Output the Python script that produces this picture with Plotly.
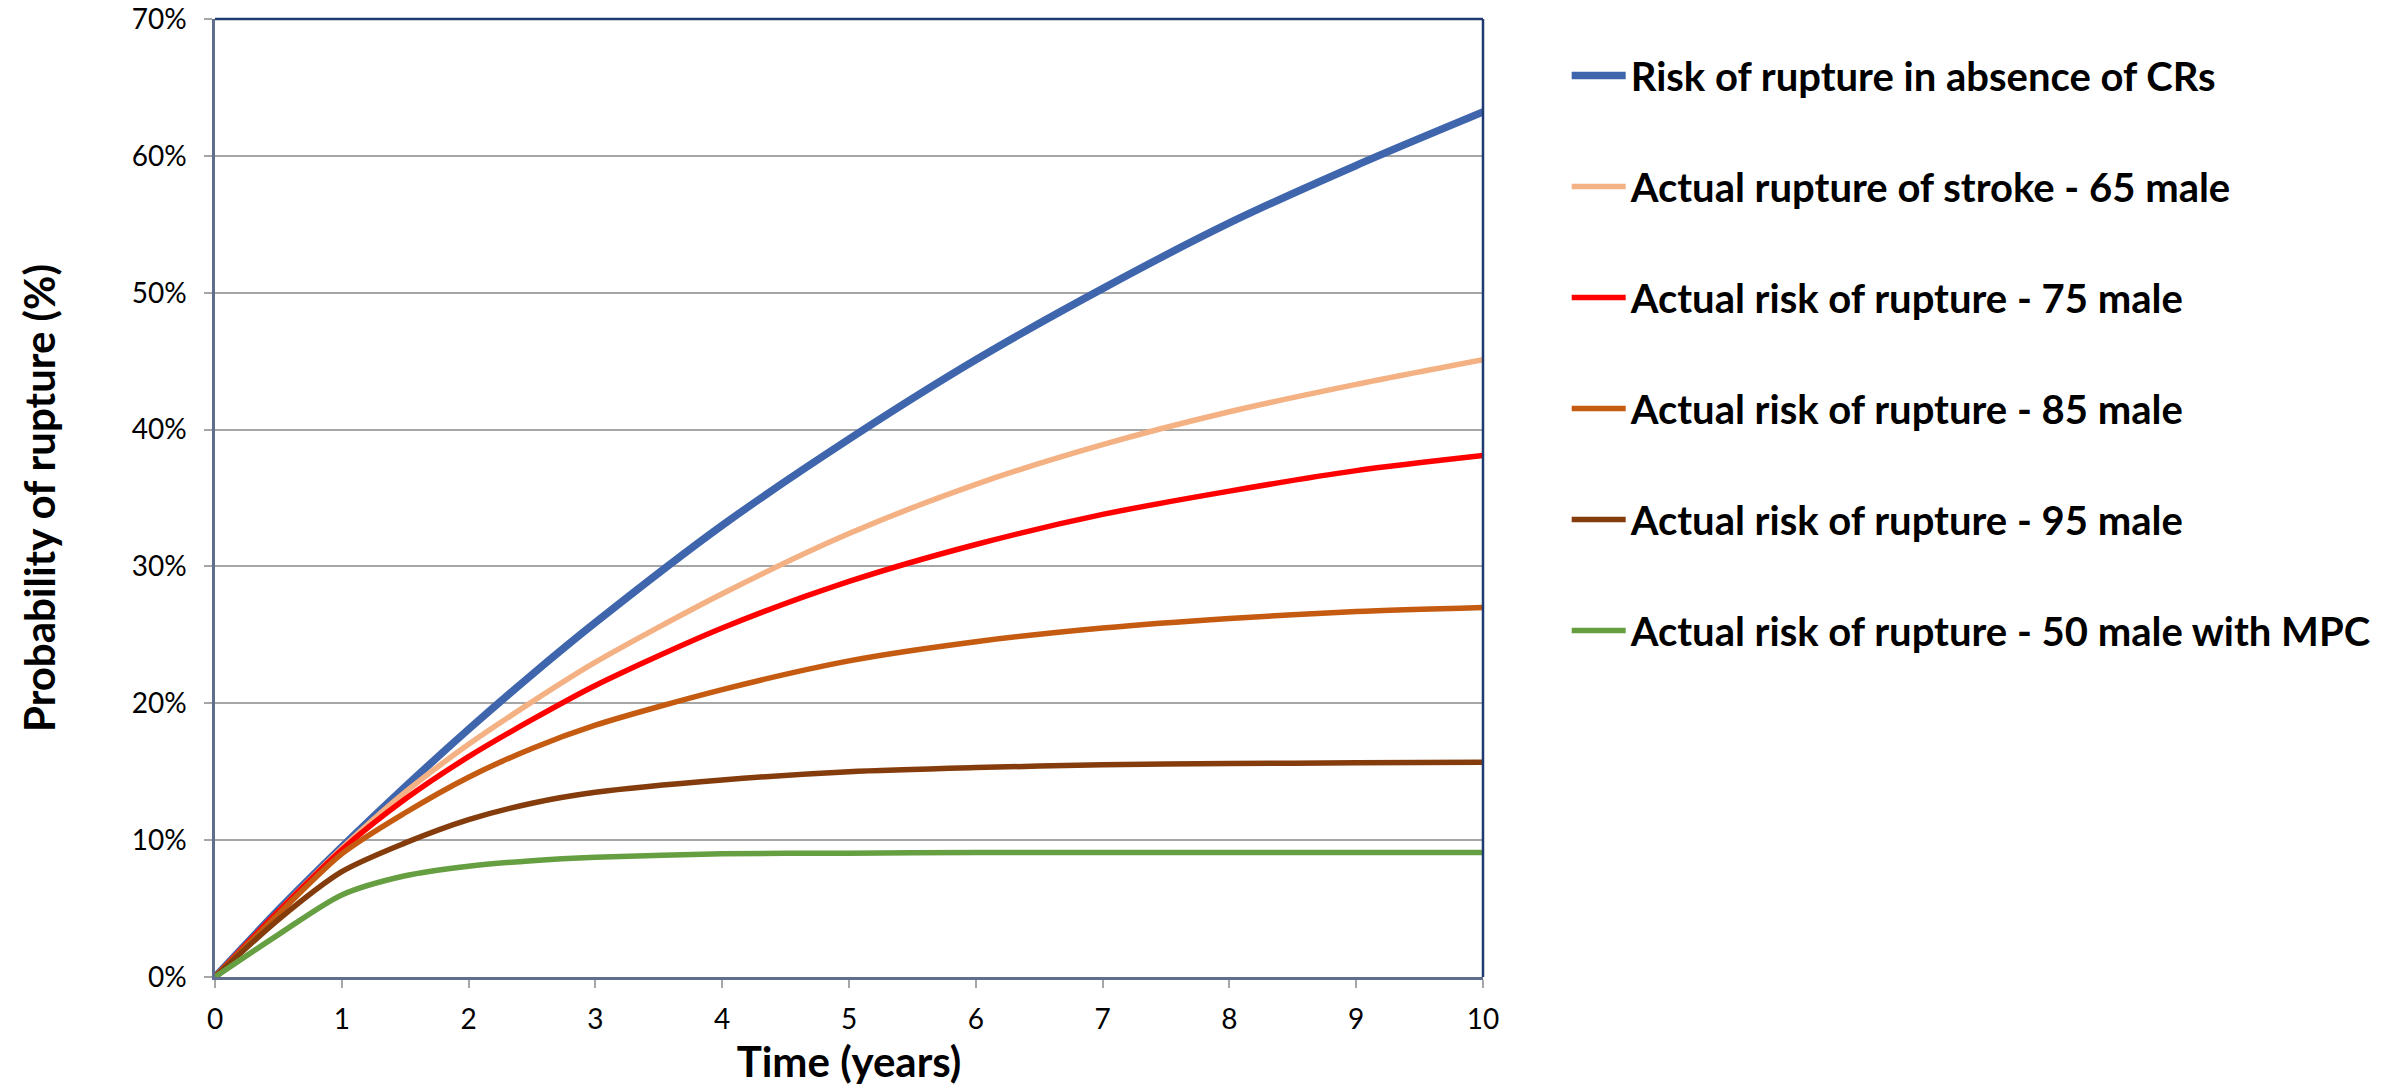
import plotly.graph_objects as go

# Time (years)
years = [0, 0.5, 1, 1.5, 2, 2.5, 3, 4, 5, 6, 7, 8, 9, 10]

# Probability of rupture (%) per series
risk_no_cr = [0, 4.9, 9.5, 13.9, 18.1, 22.1, 25.9, 33.0, 39.3, 45.1, 50.3, 55.1, 59.3, 63.2]
stroke_65 = [0, 4.8, 9.4, 13.5, 17.0, 20.1, 23.0, 28.0, 32.4, 36.0, 38.9, 41.3, 43.3, 45.1]
risk_75 = [0, 4.8, 9.3, 13.0, 16.1, 18.8, 21.3, 25.5, 28.9, 31.6, 33.8, 35.5, 37.0, 38.1]
risk_85 = [0, 4.6, 9.0, 12.0, 14.6, 16.7, 18.4, 21.0, 23.1, 24.5, 25.5, 26.2, 26.7, 27.0]
risk_95 = [0, 4.2, 7.7, 9.8, 11.5, 12.7, 13.5, 14.4, 15.0, 15.3, 15.5, 15.6, 15.65, 15.7]
risk_50_mpc = [0, 3.1, 6.0, 7.4, 8.1, 8.5, 8.75, 9.0, 9.05, 9.1, 9.1, 9.1, 9.1, 9.1]

series_names = [
    "Risk of rupture in absence of CRs",
    "Actual rupture of stroke - 65 male",
    "Actual risk of rupture - 75 male",
    "Actual risk of rupture - 85 male",
    "Actual risk of rupture - 95 male",
    "Actual risk of rupture - 50 male with MPC",
]
series_values = [risk_no_cr, stroke_65, risk_75, risk_85, risk_95, risk_50_mpc]
series_colors = ["#3F66AD", "#F4B183", "#FF0000", "#C55A11", "#843C0C", "#659F41"]
series_widths = [7.5, 5.5, 5.5, 5.5, 5.5, 5.5]

y_ticks = [0, 10, 20, 30, 40, 50, 60, 70]
y_tick_labels = ["0%", "10%", "20%", "30%", "40%", "50%", "60%", "70%"]
x_ticks = list(range(0, 11))

fig = go.Figure()
for i, (name, vals, col, w) in enumerate(zip(series_names, series_values, series_colors, series_widths)):
    fig.add_trace(go.Scatter(
        x=years, y=vals, mode="lines", name=name,
        legendgroup=f"g{i}",
        line=dict(color=col, width=w, shape="spline", smoothing=0.8),
    ))

axis_font = dict(family="Lato", size=28, color="#000000")
title_font = dict(family="Lato", size=42, color="#000000", weight="bold")

fig.update_layout(
    width=2390, height=1086,
    margin=dict(l=215, r=907, t=19, b=109, autoexpand=False),
    paper_bgcolor="white", plot_bgcolor="white",
    showlegend=True,
    legend=dict(
        x=1.066, xanchor="left", y=0.975, yanchor="top",
        font=dict(family="Lato", size=40, color="#000000", weight="bold"),
        tracegroupgap=56, itemwidth=54,
        bgcolor="rgba(0,0,0,0)",
    ),
    xaxis=dict(
        range=[0, 10], tickvals=x_ticks, showgrid=False, zeroline=False,
        showline=True, linecolor="#5E6E8C", linewidth=2.5, automargin=False,
        ticks="outside", ticklen=8, tickwidth=2, tickcolor="#A6A6A6",
        tickfont=axis_font, ticklabelstandoff=8,
        title=dict(text="Time (years)", font=title_font, standoff=17),
    ),
    yaxis=dict(
        range=[0, 70], tickvals=y_ticks, ticktext=y_tick_labels,
        showgrid=True, gridcolor="#A6A6A6", gridwidth=2, zeroline=False,
        showline=True, linecolor="#5E6E8C", linewidth=2.5, automargin=False,
        ticks="outside", ticklen=8, tickwidth=2, tickcolor="#A6A6A6",
        tickfont=axis_font, ticklabelstandoff=12,
        title=dict(text="Probability of rupture (%)", font=title_font, standoff=64),
    ),
)

# top and right border of plot area (navy)
fig.add_shape(type="line", xref="x domain", yref="y domain", x0=0, x1=1, y0=1, y1=1,
              line=dict(color="#1F3A70", width=2.5))
fig.add_shape(type="line", xref="x domain", yref="y domain", x0=1, x1=1, y0=0, y1=1,
              line=dict(color="#1F3A70", width=2.5))

fig.write_html("out.html")
